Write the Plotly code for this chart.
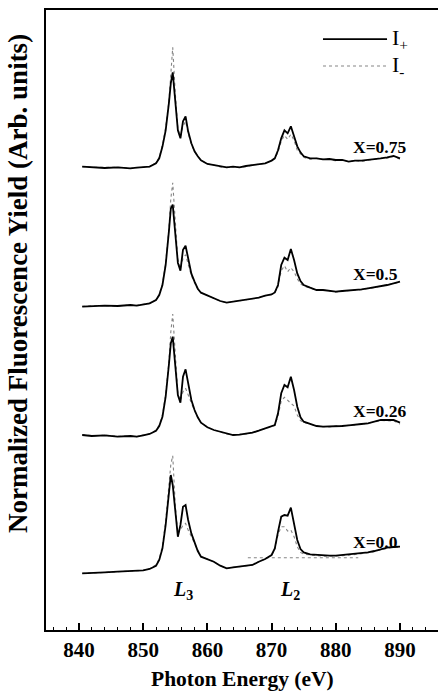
import plotly.graph_objects as go

# Photon energy grid (eV)
energy = [840.5, 842, 844, 846, 848, 849, 850, 851, 852, 852.5,
          853, 853.5, 854, 854.3, 854.6, 855, 855.4, 855.8, 856.2, 856.6,
          857, 857.5, 858, 858.5, 859, 860, 861, 862, 863, 864,
          865, 866, 867, 868, 869, 870, 870.5, 871, 871.5, 872,
          872.5, 873, 873.5, 874, 874.5, 875, 876, 877, 878, 879,
          880, 881, 882, 883, 884, 885, 886, 887, 888, 889, 890]

# I+ (solid) and I- (dotted) intensities, arbitrary units, relative to each baseline
plus_075 = [0.7, 0, -0.7, 0, -1, -0.3, 0, 0.7, 4, 9,
            20.7, 37, 64, 84, 95, 67, 37, 29, 46, 51,
            36, 24, 16, 11, 7, 3.3, 2.3, 1.3, 0, 0.7,
            0, 1.3, 2.3, 3, 4, 6.7, 9, 17, 29, 37,
            34, 41, 32, 21, 15, 11, 9, 9, 8, 8.3,
            7.3, 7.3, 5.7, 6.7, 6.7, 7.3, 8, 9, 10, 11.3, 9]
minus_075 = [0.7, 0, 0, 0, -1, -0.3, 0, 0.7, 4.5, 10,
             22, 40, 66, 95, 120, 74, 39, 31, 41, 46,
             34, 23, 16, 11, 7, 3.3, 2.3, 0.3, 0, 0.7,
             0, 0.7, 2.3, 3, 4, 6.7, 9, 15, 26, 32,
             28, 33, 27, 17, 13, 10, 8, 9, 8, 8.3,
             6.3, 7.3, 5.7, 6.7, 5.7, 7.3, 8, 9, 9, 11.3, 8]

plus_05 = [0, 0.7, 1, 0.7, 1.7, 1, 2.3, 3.3, 6.7, 11.7,
           21.7, 41.7, 75, 98, 102, 75, 44, 36, 57, 61,
           47, 33, 25, 18, 14, 11, 8.3, 5.7, 4, 5,
           5.7, 6.7, 7.7, 9, 11, 12.3, 14.3, 21.7, 41.7, 49,
           46.7, 57.7, 46.7, 33.3, 25.7, 21.7, 19, 16.7, 16.7, 15.7,
           15, 15.7, 16, 16.7, 17.3, 18.3, 19.3, 20.7, 21.7, 23.3, 25]
minus_05 = [0.3, 1, 1, 0.7, 1.7, 1.3, 2.3, 3.3, 7, 12.5,
            23, 44, 78, 108, 124, 82, 47, 38, 48, 52,
            43, 31, 24, 18, 14, 11, 8.3, 5.7, 4, 5,
            5.7, 6.7, 7.7, 9, 11, 12.3, 14, 20, 36, 41,
            35, 39, 35, 28, 23, 20.5, 18.5, 16.7, 16.7, 15.7,
            14.5, 15.7, 16, 16.7, 17, 18.3, 19, 20.7, 21.7, 23, 24.5]

plus_026 = [1, 0, 0.7, -0.7, 0, -0.7, 0.7, 2, 5.3, 10,
            19.3, 39.3, 71, 92.7, 99.3, 72.7, 41, 33.3, 59.3, 66.7,
            51, 36, 26, 18.7, 13.3, 8.7, 6, 4.3, 2, 1,
            1.3, 2, 3.3, 5.3, 7.7, 9.3, 11, 22.7, 42.7, 51,
            48.7, 59.3, 46, 29.3, 18.7, 14.3, 12, 10, 9.3, 9.3,
            10, 10, 10.7, 11, 12, 12.7, 14.3, 16, 16, 16, 13.3]
minus_026 = [1.3, 0.3, 0.7, -0.3, 0, -0.7, 1, 2.3, 6, 11,
             21, 42, 74, 104, 122, 79.3, 42.7, 35.3, 44.3, 47.7,
             41, 32.7, 25, 18.7, 13.3, 8.7, 6, 4.3, 2, 1,
             1.3, 2, 3.3, 5.3, 7.7, 9.3, 10.5, 20, 35, 38.7,
             35.3, 32.7, 30, 21, 15.3, 13.5, 12, 10, 9.3, 9,
             10, 10, 10.7, 11, 12, 12.7, 14, 15.5, 15.5, 15, 12]

plus_00 = [-0.7, 0, 0.3, 1, 1.7, 1.7, 2.3, 3.7, 7, 12.7,
           24.3, 47.7, 81, 97.7, 87.7, 61, 36, 47.7, 66, 67.7,
           52.7, 39.3, 29.3, 21.7, 16, 13.7, 11, 7, 4.3, 5.3,
           6, 7, 7.7, 11, 13.7, 17.7, 24.3, 41, 56, 57.7,
           57, 65, 49.3, 32.7, 23.7, 20.3, 18.3, 17.7, 17, 17,
           17, 17.7, 18.3, 18.7, 19.3, 20.3, 21.7, 23.7, 25, 25.7, 26]
minus_00 = [-0.7, 0, 0.3, 1, 1.7, 1.7, 2.3, 4, 8, 14,
            27, 52, 84, 108, 117, 67.7, 39.3, 42.7, 47.7, 49.3,
            42.7, 36, 28, 21, 16, 13.7, 11, 7, 4.3, 5.3,
            6, 7, 7.7, 11, 13.7, 17.7, 23, 38, 46, 46,
            41.7, 42.7, 36, 26, 20.3, 18.5, 17.5, 17, 16.5, 16.5,
            16.5, 17, 17.5, 18, 19, 20, 21, 23, 24.5, 25.5, 25.5]

# edge-step reference line (X=0.0), relative to its baseline
step_x = [866.3, 883.5]
step_y = [15, 15]

sample_labels = ["X=0.75", "X=0.5", "X=0.26", "X=0.0"]
offsets = [462.7, 323.3, 194.0, 57.3]
label_y = [483, 356.5, 219.5, 88]
label_x = 882.3

plus_sets = [plus_075, plus_05, plus_026, plus_00]
minus_sets = [minus_075, minus_05, minus_026, minus_00]

edge_labels = ["<i>L</i><sub>3</sub>", "<i>L</i><sub>2</sub>"]
edge_x = [856.2, 872.9]
edge_y = 40

FONT = "Liberation Serif, Times New Roman, serif"

fig = go.Figure()
for off, minus in zip(offsets, minus_sets):
    fig.add_trace(go.Scatter(x=energy, y=[v + off for v in minus], mode="lines",
                             line=dict(color="#858585", width=1.1, dash="dot"),
                             showlegend=False, hoverinfo="skip"))
fig.add_trace(go.Scatter(x=step_x, y=[v + offsets[3] for v in step_y], mode="lines",
                         line=dict(color="#858585", width=1.1, dash="dot"),
                         showlegend=False, hoverinfo="skip"))
for off, plus in zip(offsets, plus_sets):
    fig.add_trace(go.Scatter(x=energy, y=[v + off for v in plus], mode="lines",
                             line=dict(color="black", width=1.8),
                             showlegend=False, hoverinfo="skip"))

annotations = []
for lab, ly in zip(sample_labels, label_y):
    annotations.append(dict(x=label_x, y=ly, xref="x", yref="y", text=lab,
                            showarrow=False, xanchor="left", yanchor="middle",
                            font=dict(family=FONT, size=17.5, color="black", weight="bold")))
for lab, ex in zip(edge_labels, edge_x):
    annotations.append(dict(x=ex, y=edge_y, xref="x", yref="y", text=lab,
                            showarrow=False, xanchor="center", yanchor="middle",
                            font=dict(family=FONT, size=20, color="black", weight="bold")))
# legend texts
annotations.append(dict(x=0.878, y=0.953, xref="paper", yref="paper", text="I<sub>+</sub>",
                        showarrow=False, xanchor="left", yanchor="middle",
                        font=dict(family=FONT, size=22, color="black")))
annotations.append(dict(x=0.878, y=0.9097, xref="paper", yref="paper", text="I<sub>-</sub>",
                        showarrow=False, xanchor="left", yanchor="middle",
                        font=dict(family=FONT, size=22, color="black")))
# axis titles
annotations.append(dict(x=0.5, y=-0.0790, xref="paper", yref="paper", text="Photon Energy (eV)",
                        showarrow=False, xanchor="center", yanchor="middle",
                        font=dict(family=FONT, size=21.5, color="black", weight="bold")))
annotations.append(dict(x=-0.0714, y=0.5580, xref="paper", yref="paper",
                        text="Normalized Fluorescence Yield (Arb. units)", textangle=-90,
                        showarrow=False, xanchor="center", yanchor="middle",
                        font=dict(family=FONT, size=27, color="black", weight="bold")))

shapes = [
    dict(type="line", xref="paper", yref="paper", x0=0.7066, x1=0.870, y0=0.953, y1=0.953,
         line=dict(color="black", width=1.7)),
    dict(type="line", xref="paper", yref="paper", x0=0.7066, x1=0.870, y0=0.9097, y1=0.9097,
         line=dict(color="#858585", width=1.1, dash="dot")),
]

fig.update_layout(
    width=438, height=694,
    margin=dict(l=46, r=0, t=10, b=64),
    paper_bgcolor="white", plot_bgcolor="white",
    annotations=annotations, shapes=shapes,
    xaxis=dict(range=[834.86, 895.92], tick0=840, dtick=10, ticks="inside", ticklen=7,
               tickwidth=1.5, tickcolor="black", showline=True, linecolor="black",
               linewidth=1.5, mirror=True, showgrid=False, zeroline=False,
               ticklabelstandoff=0,
               tickfont=dict(family=FONT, size=21, color="black", weight="bold"),
               minor=dict(dtick=2, tick0=840, ticks="inside", ticklen=3.5, tickwidth=1,
                          tickcolor="black", showgrid=False)),
    yaxis=dict(range=[0, 620], showticklabels=False, ticks="", showline=True,
               linecolor="black", linewidth=1.5, showgrid=False, zeroline=False),
)

fig.write_html("out.html")
